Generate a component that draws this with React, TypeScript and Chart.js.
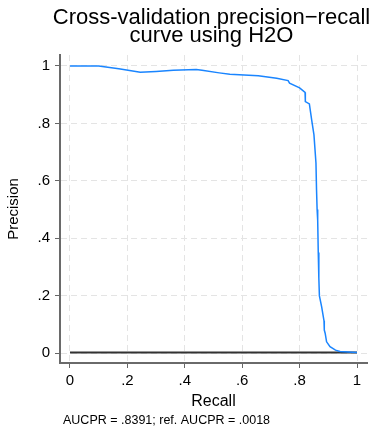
import React, { useEffect, useRef } from "react";
import { Chart, registerables } from "chart.js";

Chart.register(...registerables);

const TITLE_LINES = ["Cross-validation precision\u2212recall", "curve using H2O"];
const X_TITLE = "Recall";
const Y_TITLE = "Precision";
const NOTE = "AUCPR = .8391; ref. AUCPR = .0018";

const TICKS = [0, 0.2, 0.4, 0.6, 0.8, 1];

const recall = [
  0, 0.1, 0.17, 0.245, 0.3, 0.36, 0.44, 0.46, 0.52, 0.557, 0.656, 0.72, 0.76,
  0.765, 0.8, 0.819, 0.82, 0.834, 0.842, 0.85, 0.857, 0.859, 0.861, 0.862,
  0.864, 0.865, 0.867, 0.869, 0.877, 0.885, 0.886, 0.889, 0.894, 0.906,
  0.925, 0.941, 1.0,
];
const precision = [
  1.0, 1.0, 0.99, 0.978, 0.981, 0.985, 0.988, 0.985, 0.976, 0.971, 0.966,
  0.957, 0.949, 0.94, 0.924, 0.908, 0.876, 0.868, 0.812, 0.76, 0.662, 0.568,
  0.5, 0.47, 0.463, 0.35, 0.261, 0.199, 0.16, 0.112, 0.08, 0.069, 0.039,
  0.022, 0.01, 0.005, 0.002,
];

const refX = [0, 1];
const refY = [0.0018, 0.0018];

const FONT = '"Liberation Sans", Arial, sans-serif';

const fmt = (v: number) => {
  const r = Math.round(v * 10) / 10;
  if (r === 0) return "0";
  if (r === 1) return "1";
  return String(r).replace(/^0\./, ".");
};

const textPlugin = {
  id: "textPlugin",
  afterDraw(chart: any) {
    const { ctx, chartArea } = chart;
    const cx = (chartArea.left + chartArea.right) / 2 - 2;
    ctx.save();
    ctx.fillStyle = "#000";
    ctx.textAlign = "center";
    ctx.textBaseline = "middle";
    ctx.font = `22px ${FONT}`;
    ctx.fillText(TITLE_LINES[0], cx, 18);
    ctx.fillText(TITLE_LINES[1], cx, 36);
    ctx.font = `16px ${FONT}`;
    ctx.fillText(X_TITLE, cx + 2, 402);
    ctx.save();
    ctx.translate(14, (chartArea.top + chartArea.bottom) / 2);
    ctx.rotate(-Math.PI / 2);
    ctx.font = `15px ${FONT}`;
    ctx.fillText(Y_TITLE, 0, 0);
    ctx.restore();
    ctx.textAlign = "left";
    ctx.font = `12.5px ${FONT}`;
    ctx.fillText(NOTE, 63, 421);
    ctx.restore();
  },
};

export default function App() {
  const ref = useRef<HTMLCanvasElement | null>(null);
  useEffect(() => {
    document.body.style.margin = "0";
    const canvas = ref.current!;
    const scaleCommon = (axis: "x" | "y") => ({
      type: "linear" as const,
      afterBuildTicks: (s: any) => {
        s.ticks = TICKS.map((v) => ({ value: v }));
      },
      afterFit: (s: any) => {
        if (axis === "x") s.height = 67;
        else s.width = 60;
      },
      grid: {
        color: "#e4e4e4",
        lineWidth: 1,
        drawTicks: true,
        tickLength: 5,
        tickColor: "#666",
        tickWidth: 1,
        tickBorderDash: [],
      },
      border: { display: true, color: "#6a6a6a", width: 2, dash: [6, 4] },
      ticks: {
        color: "#000",
        font: { family: FONT, size: 15 },
        padding: axis === "x" ? 4 : 5,
        maxRotation: 0,
        autoSkip: false,
        callback: (v: any) => fmt(Number(v)),
      },
    });
    const chart = new Chart(canvas, {
      type: "scatter",
      data: {
        datasets: [
          {
            data: refX.map((x, i) => ({ x, y: refY[i] })),
            showLine: true,
            borderColor: "#333333",
            borderWidth: 2,
            pointRadius: 0,
            order: 2,
          },
          {
            data: recall.map((x, i) => ({ x, y: precision[i] })),
            showLine: true,
            borderColor: "#1a85ff",
            borderWidth: 1.5,
            pointRadius: 0,
            tension: 0,
            order: 1,
          },
        ],
      },
      options: {
        responsive: false,
        animation: false,
        layout: { padding: { top: 55, right: 6, left: 0, bottom: 0 } },
        plugins: {
          legend: { display: false },
          tooltip: { enabled: false },
          title: { display: false },
        },
        scales: {
          x: { ...scaleCommon("x"), min: -0.0348, max: 1.0348 },
          y: { ...scaleCommon("y"), min: -0.0348, max: 1.0383 },
        },
      },
      plugins: [textPlugin],
    });
    return () => chart.destroy();
  }, []);
  return (
    <div style={{ position: "fixed", left: 0, top: 0, width: 373, height: 430 }}>
      <canvas ref={ref} width={373} height={430} style={{ display: "block" }} />
    </div>
  );
}
